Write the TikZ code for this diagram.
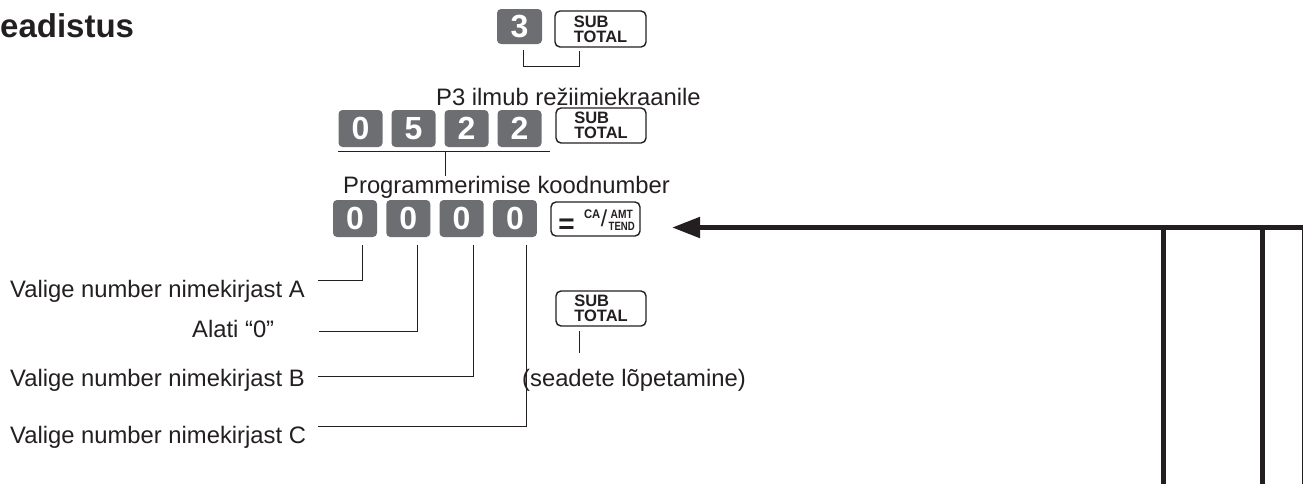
\documentclass[tikz,border=0pt]{standalone}
\usepackage{fontspec}
\setmainfont{Liberation Sans}
\usetikzlibrary{arrows.meta}
\definecolor{ink}{HTML}{231F20}
\definecolor{keygray}{HTML}{6D6E71}
\tikzset{
  numkey/.style={fill=keygray, rounded corners=4pt, minimum width=44pt, minimum height=37pt,
    inner sep=0pt, text=white, font=\bfseries\fontsize{32}{32}\selectfont},
  fnkey/.style={draw=ink, line width=1.4pt, rounded corners=5pt, fill=white, minimum width=90pt,
    minimum height=35pt, inner sep=0pt, text=ink, align=left, font=\bfseries\fontsize{16.5}{15}\selectfont},
  txt/.style={anchor=base west, inner sep=0pt, text=ink, font=\fontsize{23.8}{28}\selectfont},
  small/.style={inner sep=0pt, text=ink, font=\bfseries\fontsize{12}{12}\selectfont},
  lead/.style={draw=ink, line width=1pt},
  bar/.style={draw=ink, line width=5pt},
}
\begin{document}
\begin{tikzpicture}[x=1pt, y=-1pt]
  \useasboundingbox (0,0) rectangle (1303,483);

  % title (cut at the page edge)
  \node[txt, font=\bfseries\fontsize{33}{36}\selectfont] (title) at (0,37) {eadistus};

  % step 1: 3 + SUB TOTAL
  \node[numkey, minimum width=45pt, minimum height=35pt] (k3) at (519.5,26.5) {3};
  \node[fnkey, minimum width=91pt, minimum height=36pt] (st1) at (600.5,29) {SUB\\TOTAL};
  \draw[lead] ([xshift=3.5pt,yshift=-6pt]k3.south) -- ++(0,16) -| ([xshift=-21.5pt,yshift=-3pt]st1.south);

  % step 2: 0 5 2 2 + SUB TOTAL
  \node[txt] (p3) at (436,105) {P3 ilmub režiimiekraanile};
  \foreach \d [count=\i] in {0,5,2,2}
    \node[numkey] (r\i) at ({360.5+53*(\i-1)},128.5) {\d};
  \node[fnkey] (st2) at (601,125.5) {SUB\\TOTAL};
  \coordinate (mid) at (445,151);
  \draw[lead] ([yshift=-4pt]r1.south west) -- ([xshift=8pt,yshift=-4pt]r4.south east);

  % step 3: 0 0 0 0 + CA/AMT TEND
  \node[txt] (prog) at (343,193) {Programmerimise koodnumber};
  \draw[lead] (mid) -- (mid |- prog.north);
  \foreach \i in {1,...,4}
    \node[numkey] (c\i) at ({355+53.3*(\i-1)},218.5) {0};
  \node[fnkey, minimum width=89pt, minimum height=34pt] (ca) at (595.5,219) {};
  \node[small, font=\bfseries\fontsize{28}{28}\selectfont] (caeq) at (566.5,226) {=};
  \node[small, anchor=base east, font=\bfseries\fontsize{12.5}{12.5}\selectfont] (cacap) at (600.5,218) {\scalebox{0.9}[1]{CA}};
  \node[small, font=\fontsize{23}{23}\selectfont] (caslash) at (604,218.5) {/};
  \node[small, anchor=base west] (camt) at (610.5,218) {\scalebox{0.85}[1]{AMT}};
  \node[small, anchor=base west] (ctend) at (608.5,230.5) {\scalebox{0.8}[1]{TEND}};

  % what each digit means
  \node[txt] (labA) at (10,297) {Valige number nimekirjast A};
  \node[txt] (labZ) at (192,337) {Alati “0”};
  \node[txt] (labB) at (10,386) {Valige number nimekirjast B};
  \node[txt] (labC) at (10,443) {Valige number nimekirjast C};
  \coordinate (sA) at (318,280);
  \coordinate (sZ) at (319,331);
  \coordinate (sB) at (318,376);
  \coordinate (sC) at (318,426);
  \draw[lead] (sA) -| ([xshift=7pt,yshift=-8pt]c1.south);
  \draw[lead] (sZ) -| ([xshift=9pt,yshift=-8pt]c2.south);
  \draw[lead] (sB) -| ([xshift=11.5pt,yshift=-8pt]c3.south);
  \draw[lead] (sC) -| ([xshift=12pt,yshift=-8pt]c4.south);

  % step 4: SUB TOTAL ends the setting
  \node[fnkey] (st3) at (601,308.5) {SUB\\TOTAL};
  \node[txt] (fin) at (522,386) {(seadete lõpetamine)};
  \draw[lead] ([xshift=-22pt,yshift=-4.5pt]st3.south) -- ++(0,22);

  % return arrow from the right
  \coordinate (edge) at (1306,227.5);
  \coordinate (tip) at (672,227.5);
  \draw[bar, -{Triangle[length=28pt,width=20pt]}] (edge) -- (tip);
  \draw[bar] (1163,230) -- (1163,486);
  \draw[bar] (1262,230) -- (1262,486);
  \draw[bar] (1304,227) -- (1304,486);
\end{tikzpicture}
\end{document}
